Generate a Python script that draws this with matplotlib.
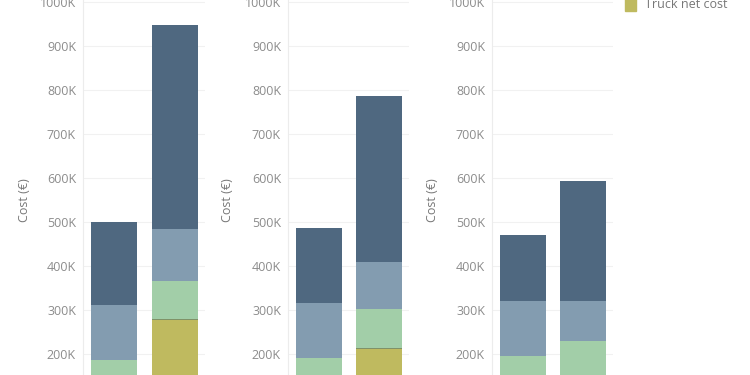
import matplotlib.pyplot as plt
from matplotlib.patches import Rectangle
import numpy as np

plt.rcParams['font.family'] = ['Open Sans', 'DejaVu Sans']

# Segment heights in thousands of euro, two bars per panel (bottom to top)
panels = ['A', 'B', 'C']
truck_net = [[0, 277], [0, 212], [0, 0]]
small_part = [[0, 2.5], [0, 2.5], [0, 0]]
green_part = [[186, 87.5], [190, 88.5], [195, 230]]
light_part = [[126, 116], [127, 105], [125, 91]]
dark_part = [[187, 464], [170, 379], [150, 272]]

y_ticks = [200, 300, 400, 500, 600, 700, 800, 900, 1000]

colors = ['#bfba5f', '#7f9268', '#a2cea8', '#839cb0', '#4f6880']
W, H = 750, 375

fig = plt.figure(figsize=(7.5, 3.75), dpi=100)
axis_x = [(83, 122), (288, 121), (492, 121)]
label_x = [31, 234, 439]

for i, (left, width) in enumerate(axis_x):
    ax = fig.add_axes([left / W, 0, width / W, 1])
    layers = [truck_net[i], small_part[i], green_part[i], light_part[i], dark_part[i]]
    x = np.arange(2)
    bottom = np.zeros(2)
    for vals, c in zip(layers, colors):
        vals = np.array(vals, dtype=float)
        ax.bar(x, vals * 1000, bottom=bottom * 1000, width=0.755, color=c,
               edgecolor='none', zorder=3)
        bottom += vals
    ax.set_ylim(152300, 1004500)
    ax.set_xlim(-0.508, 1.492)
    ax.set_yticks([v * 1000 for v in y_ticks])
    ax.set_yticklabels([f'{v}K' for v in y_ticks], color='#8c8c8c', fontsize=9)
    ax.tick_params(axis='y', length=0, pad=5)
    ax.set_xticks([])
    ax.grid(axis='y', color='#f1f1f1', linewidth=0.8, zorder=0)
    for s in ['top', 'right', 'bottom']:
        ax.spines[s].set_visible(False)
    ax.spines['left'].set_color('#ececec')
    ax.spines['left'].set_linewidth(0.8)
    ax.set_ylabel('Cost (€)', color='#777777', fontsize=9)
    ax.yaxis.set_label_coords(-(left - label_x[i]) / width, 0.467)

# legend entry that is visible
fig.patches.append(Rectangle((625 / W, 1 - 11 / H), 11 / W, 13 / H,
                             transform=fig.transFigure, color=colors[0]))
fig.text(645 / W, 1 - 4 / H, 'Truck net cost', color='#777777', fontsize=9,
         va='center', ha='left')

plt.savefig('out.png', dpi=100)
